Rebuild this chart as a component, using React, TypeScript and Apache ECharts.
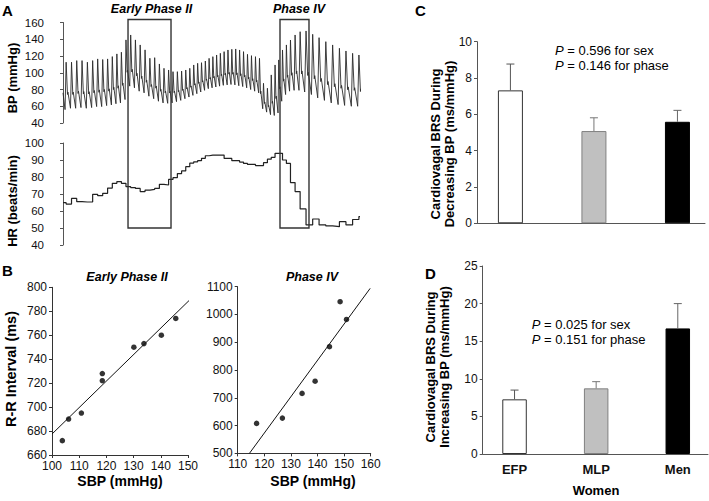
import React, { useEffect, useRef } from "react";
import * as echarts from "echarts";

const FONT = "'Liberation Sans', Arial, Helvetica, sans-serif";

// ---------- Panel A: beat-by-beat recording (Valsalva) ----------
const hrStart = 64.9; // beats/min before first detected beat
const bpStart = 76; // mmHg at the start of the trace
const firstBeatOnset = 0.35; // s
const beatHR = [
  64.1, 67.4, 65.5, 65.3, 65.3, 69.8, 69.0, 70.4, 73.5, 76.3,
  77.3, 76.3, 74.3, 73.8, 73.3, 71.4, 72.3, 72.7, 73.3, 75.7,
  75.3, 78.6, 79.6, 82.0, 83.6, 86.1, 88.2, 88.9, 89.6, 91.0,
  92.5, 92.9, 92.9, 92.9, 92.9, 90.9, 90.9, 89.6, 89.6, 88.8,
  88.0, 87.4, 87.4, 86.7, 86.7, 88.4, 90.5, 91.6, 93.9, 93.9,
  90.0, 88.0, 76.7, 71.4, 61.2, 51.8, 55.3, 51.8, 51.2, 50.8,
  53.7, 51.8, 55.0, 56.7,
];
const beatSBP = [
  112.6, 112.6, 114.5, 114.5, 112.6, 114.5, 116.5, 115.8, 116.5, 119.3,
  122.5, 124.5, 139.2, 145.1, 139.2, 133.2, 127.3, 117.3, 118.0, 110.5,
  105.3, 103.3, 101.3, 101.3, 102.0, 103.3, 105.3, 109.3, 111.3, 112.0,
  114.0, 117.2, 119.2, 121.2, 123.2, 125.2, 127.2, 128.0, 128.4, 127.2,
  125.2, 122.0, 120.4, 119.2, 117.2, 87.4, 81.5, 97.4, 109.3, 115.3,
  127.2, 133.2, 139.1, 145.1, 149.0, 149.9, 145.9, 141.9, 137.1, 133.2,
  129.2, 126.0, 123.2, 121.2,
];
const beatDBP = [
  56.0, 57.6, 57.6, 58.4, 57.6, 58.4, 59.6, 59.6, 60.8, 61.6,
  63.0, 64.0, 68.0, 84.0, 82.0, 78.0, 76.0, 72.0, 69.0, 66.0,
  64.0, 63.5, 64.0, 65.5, 67.0, 69.0, 71.0, 73.0, 75.0, 77.0,
  79.0, 81.0, 82.0, 83.0, 84.0, 85.0, 85.5, 86.0, 85.5, 84.5,
  83.5, 82.0, 80.0, 78.0, 76.0, 57.0, 53.0, 50.0, 49.0, 52.0,
  66.0, 74.0, 78.0, 79.0, 79.0, 77.0, 74.0, 70.0, 67.0, 64.0,
  62.0, 61.0, 60.0, 60.0, 59.0,
];
const phaseNames = ["Early Phase II", "Phase IV"];
const phaseStart = [11.19, 37.35]; // s
const phaseEnd = [18.59, 42.34]; // s
const timeMin = -2.24;
const timeMax = 51.12;

// ---------- Panel B: R-R interval vs SBP ----------
const earlySBP = [103.8, 106.1, 110.8, 118.5, 118.5, 130.1, 133.8, 140.2, 145.5];
const earlyRR = [672, 690, 695, 728, 722, 750, 753, 760, 774];
const earlyFitSBP = [100, 150.6];
const earlyFitRR = [677.5, 789.4];
const phase4SBP = [117.1, 126.8, 134.2, 139.1, 144.5, 148.5, 150.9];
const phase4RR = [608, 627, 716, 760, 884, 1046, 982];
const phase4FitSBP = [114.4, 159.8];
const phase4FitRR = [500, 1094];

// ---------- Panels C & D: cardiovagal BRS ----------
const groups = ["EFP", "MLP", "Men"];
const brsDecreasing = [7.32, 5.08, 5.59];
const brsDecreasingSEM = [1.45, 0.73, 0.63];
const brsIncreasing = [7.27, 8.73, 16.7];
const brsIncreasingSEM = [1.23, 0.89, 3.3];
const pDecreasing = ["0.596", "0.146"];
const pIncreasing = ["0.025", "0.151"];

const barFill = ["#ffffff", "#c0c0c0", "#000000"];
const barBorder = ["#333333", "#808080", "#000000"];
const errColor = ["#555555", "#777777", "#666666"];

function buildTraces() {
  const bp: number[][] = [[0, bpStart], [firstBeatOnset, beatDBP[0]]];
  const hr: number[][] = [[0, hrStart]];
  let t = firstBeatOnset;
  for (let i = 0; i < beatHR.length; i++) {
    const d = 60 / beatHR[i];
    const s = beatSBP[i];
    const q = beatDBP[i + 1];
    bp.push([t + 0.2 * d, s]);
    bp.push([t + 0.45 * d, q + 0.3 * (s - q)]);
    bp.push([t + 0.53 * d, q + 0.35 * (s - q)]);
    bp.push([t + d, q]);
    hr.push([t + 0.2 * d, beatHR[i]]);
    t += d;
  }
  hr.push([timeMax, beatHR[beatHR.length - 1]]);
  return { bp, hr };
}

const axisTxt = { color: "#111", fontFamily: FONT };
const plain = (v: number) => String(v);

function valueAxis(gridIndex: number, min: number, max: number, interval: number, fontSize: number, margin: number, lineColor: string) {
  return {
    gridIndex,
    type: "value",
    min,
    max,
    interval,
    axisLine: { show: true, lineStyle: { color: lineColor, width: 1 } },
    axisTick: { show: true, length: 3, lineStyle: { color: lineColor } },
    axisLabel: { ...axisTxt, fontSize, margin, formatter: plain, showMinLabel: true, showMaxLabel: true },
    splitLine: { show: false },
  };
}

function errorRender(colorList: string[]) {
  return (params: any, api: any) => {
    const idx = params.dataIndex;
    const base = api.coord([api.value(0), api.value(1)]);
    const top = api.coord([api.value(0), api.value(2)]);
    const c = colorList[idx];
    return {
      type: "group",
      children: [
        { type: "line", shape: { x1: base[0], y1: base[1], x2: top[0], y2: top[1] }, style: { stroke: c, lineWidth: 1 } },
        { type: "line", shape: { x1: top[0] - 4, y1: top[1], x2: top[0] + 4, y2: top[1] }, style: { stroke: c, lineWidth: 1 } },
      ],
    };
  };
}

function txt(text: string, x: number, y: number, opts: any = {}) {
  const { rotation, ...style } = opts;
  return {
    type: "text",
    x,
    y,
    rotation: rotation || 0,
    silent: true,
    style: {
      text,
      fill: "#000",
      fontFamily: FONT,
      fontSize: 13,
      fontWeight: "bold",
      align: "center",
      verticalAlign: "middle",
      ...style,
    },
  };
}

export default function App() {
  const ref = useRef<HTMLDivElement>(null);
  useEffect(() => {
    if (!ref.current) return;
    const chart = echarts.init(ref.current, undefined, { renderer: "svg" });
    const { bp, hr } = buildTraces();

    const grids = [
      { left: 50, top: 22.5, width: 310, height: 100.5 },
      { left: 50, top: 143, width: 310, height: 102 },
      { left: 52, top: 287.3, width: 136, height: 167.7 },
      { left: 237.7, top: 286.7, width: 133, height: 166.7 },
      { left: 477, top: 41.7, width: 228, height: 181.6 },
      { left: 482.7, top: 266, width: 225.3, height: 188 },
    ].map((g) => ({ ...g, containLabel: false, outerBoundsMode: "none" }));

    const option: any = {
      animation: false,
      backgroundColor: "#ffffff",
      textStyle: { fontFamily: FONT },
      grid: grids,
      xAxis: [
        { gridIndex: 0, type: "value", min: timeMin, max: timeMax, show: false },
        { gridIndex: 1, type: "value", min: timeMin, max: timeMax, show: false },
        valueAxis(2, 100, 150, 10, 12, 5, "#333"),
        valueAxis(3, 110, 160, 10, 12, 5, "#333"),
        {
          gridIndex: 4, type: "value", min: 0.6, max: 3.33,
          axisLine: { show: true, lineStyle: { color: "#555" } },
          axisTick: { show: false }, axisLabel: { show: false }, splitLine: { show: false },
        },
        {
          gridIndex: 5, type: "value", min: 0.61, max: 3.37,
          axisLine: { show: true, lineStyle: { color: "#555" } },
          axisTick: { show: false },
          axisLabel: {
            ...axisTxt, fontSize: 13, fontWeight: "bold", margin: 9,
            customValues: [1, 2, 3],
            formatter: (v: number) => groups[Math.round(v) - 1] ?? "",
          },
          splitLine: { show: false },
        },
      ],
      yAxis: [
        valueAxis(0, 40, 160, 20, 11.5, 6, "#555"),
        valueAxis(1, 40, 100, 10, 11.5, 6, "#555"),
        valueAxis(2, 660, 800, 20, 12, 5, "#333"),
        valueAxis(3, 500, 1100, 100, 12, 5, "#333"),
        valueAxis(4, 0, 10, 2, 12, 5, "#555"),
        valueAxis(5, 0, 25, 5, 12, 5, "#555"),
      ],
      series: [
        {
          type: "line", xAxisIndex: 0, yAxisIndex: 0, data: bp, showSymbol: false, symbol: "none",
          lineStyle: { color: "#2b2b2b", width: 0.9 }, clip: true,
        },
        {
          type: "line", xAxisIndex: 1, yAxisIndex: 1, data: hr, step: "end", showSymbol: false, symbol: "none",
          lineStyle: { color: "#222", width: 1.2 }, clip: true,
        },
        {
          type: "scatter", xAxisIndex: 2, yAxisIndex: 2, symbolSize: 5.5,
          itemStyle: { color: "#000" }, data: earlySBP.map((x, i) => [x, earlyRR[i]]),
        },
        {
          type: "line", xAxisIndex: 2, yAxisIndex: 2, showSymbol: false, symbol: "none", clip: false,
          lineStyle: { color: "#111", width: 1 }, data: earlyFitSBP.map((x, i) => [x, earlyFitRR[i]]),
        },
        {
          type: "scatter", xAxisIndex: 3, yAxisIndex: 3, symbolSize: 5.5,
          itemStyle: { color: "#000" }, data: phase4SBP.map((x, i) => [x, phase4RR[i]]),
        },
        {
          type: "line", xAxisIndex: 3, yAxisIndex: 3, showSymbol: false, symbol: "none", clip: false,
          lineStyle: { color: "#111", width: 1 }, data: phase4FitSBP.map((x, i) => [x, phase4FitRR[i]]),
        },
        {
          type: "bar", xAxisIndex: 4, yAxisIndex: 4, barWidth: 25,
          data: brsDecreasing.map((v, i) => ({
            value: [i + 1, v],
            itemStyle: { color: barFill[i], borderColor: barBorder[i], borderWidth: 1 },
          })),
        },
        {
          type: "custom", xAxisIndex: 4, yAxisIndex: 4, z: 5,
          encode: { x: 0, y: [1, 2] },
          renderItem: errorRender(errColor),
          data: brsDecreasing.map((v, i) => [i + 1, v, v + brsDecreasingSEM[i]]),
        },
        {
          type: "bar", xAxisIndex: 5, yAxisIndex: 5, barWidth: 24.5,
          data: brsIncreasing.map((v, i) => ({
            value: [i + 1, v],
            itemStyle: { color: barFill[i], borderColor: barBorder[i], borderWidth: 1 },
          })),
        },
        {
          type: "custom", xAxisIndex: 5, yAxisIndex: 5, z: 5,
          encode: { x: 0, y: [1, 2] },
          renderItem: errorRender(errColor),
          data: brsIncreasing.map((v, i) => [i + 1, v, v + brsIncreasingSEM[i]]),
        },
      ],
    };
    chart.setOption(option);

    // Phase windows spanning BP (top) and HR (bottom) panels
    const elements: any[] = [];
    phaseNames.forEach((name, i) => {
      const tl = chart.convertToPixel({ gridIndex: 0 } as any, [phaseStart[i], 163.6]) as number[];
      const br = chart.convertToPixel({ gridIndex: 1 } as any, [phaseEnd[i], 50]) as number[];
      elements.push({
        type: "rect",
        silent: true,
        shape: { x: tl[0], y: tl[1], width: br[0] - tl[0], height: br[1] - tl[1] },
        style: { fill: "none", stroke: "#333", lineWidth: 1.4 },
        z: 10,
      });
      elements.push(
        txt(name, (tl[0] + br[0]) / 2 + (i === 0 ? 2 : 4.5), 9, { fontSize: 12.5, fontStyle: "italic" })
      );
    });

    const rich = { i: { fontStyle: "italic", fontSize: 13, fontFamily: FONT, fill: "#000" }, n: { fontSize: 13, fontFamily: FONT, fill: "#000" } };
    elements.push(
      txt("A", 2, 10, { fontSize: 15, align: "left" }),
      txt("BP (mmHg)", 12, 78, { rotation: Math.PI / 2 }),
      txt("HR (beats/min)", 12, 201, { rotation: Math.PI / 2 }),
      txt("B", 2, 270, { fontSize: 15, align: "left" }),
      txt("Early Phase II", 127, 277, { fontSize: 12.5, fontStyle: "italic" }),
      txt("Phase IV", 312, 277, { fontSize: 12.5, fontStyle: "italic" }),
      txt("R-R Interval (ms)", 11, 369, { rotation: Math.PI / 2, fontSize: 14.5 }),
      txt("SBP (mmHg)", 120, 481, { fontSize: 14 }),
      txt("SBP (mmHg)", 313, 481, { fontSize: 14 }),
      txt("C", 415, 10, { fontSize: 15, align: "left" }),
      txt("D", 425, 273, { fontSize: 15, align: "left" }),
      txt("Cardiovagal BRS During\nDecreasing BP (ms/mmHg)", 442, 144, { rotation: Math.PI / 2, lineHeight: 14 }),
      txt("Cardiovagal BRS During\nIncreasing BP (ms/mmHg)", 437, 367, { rotation: Math.PI / 2, lineHeight: 14 }),
      txt("Women", 596, 490, {}),
      {
        type: "text", x: 555, y: 43, silent: true,
        style: {
          text: `{i|P}{n| = ${pDecreasing[0]} for sex}\n{i|P}{n| = ${pDecreasing[1]} for phase}`,
          rich, lineHeight: 15, align: "left", verticalAlign: "top", fontFamily: FONT, fontSize: 13, fill: "#000",
        },
      },
      {
        type: "text", x: 531.7, y: 316.5, silent: true,
        style: {
          text: `{i|P}{n| = ${pIncreasing[0]} for sex}\n{i|P}{n| = ${pIncreasing[1]} for phase}`,
          rich, lineHeight: 15, align: "left", verticalAlign: "top", fontFamily: FONT, fontSize: 13, fill: "#000",
        },
      }
    );
    chart.setOption({ graphic: { elements } });

    return () => chart.dispose();
  }, []);

  return (
    <div
      ref={ref}
      style={{ position: "absolute", left: 0, top: 0, width: 709, height: 501, background: "#fff" }}
    />
  );
}
